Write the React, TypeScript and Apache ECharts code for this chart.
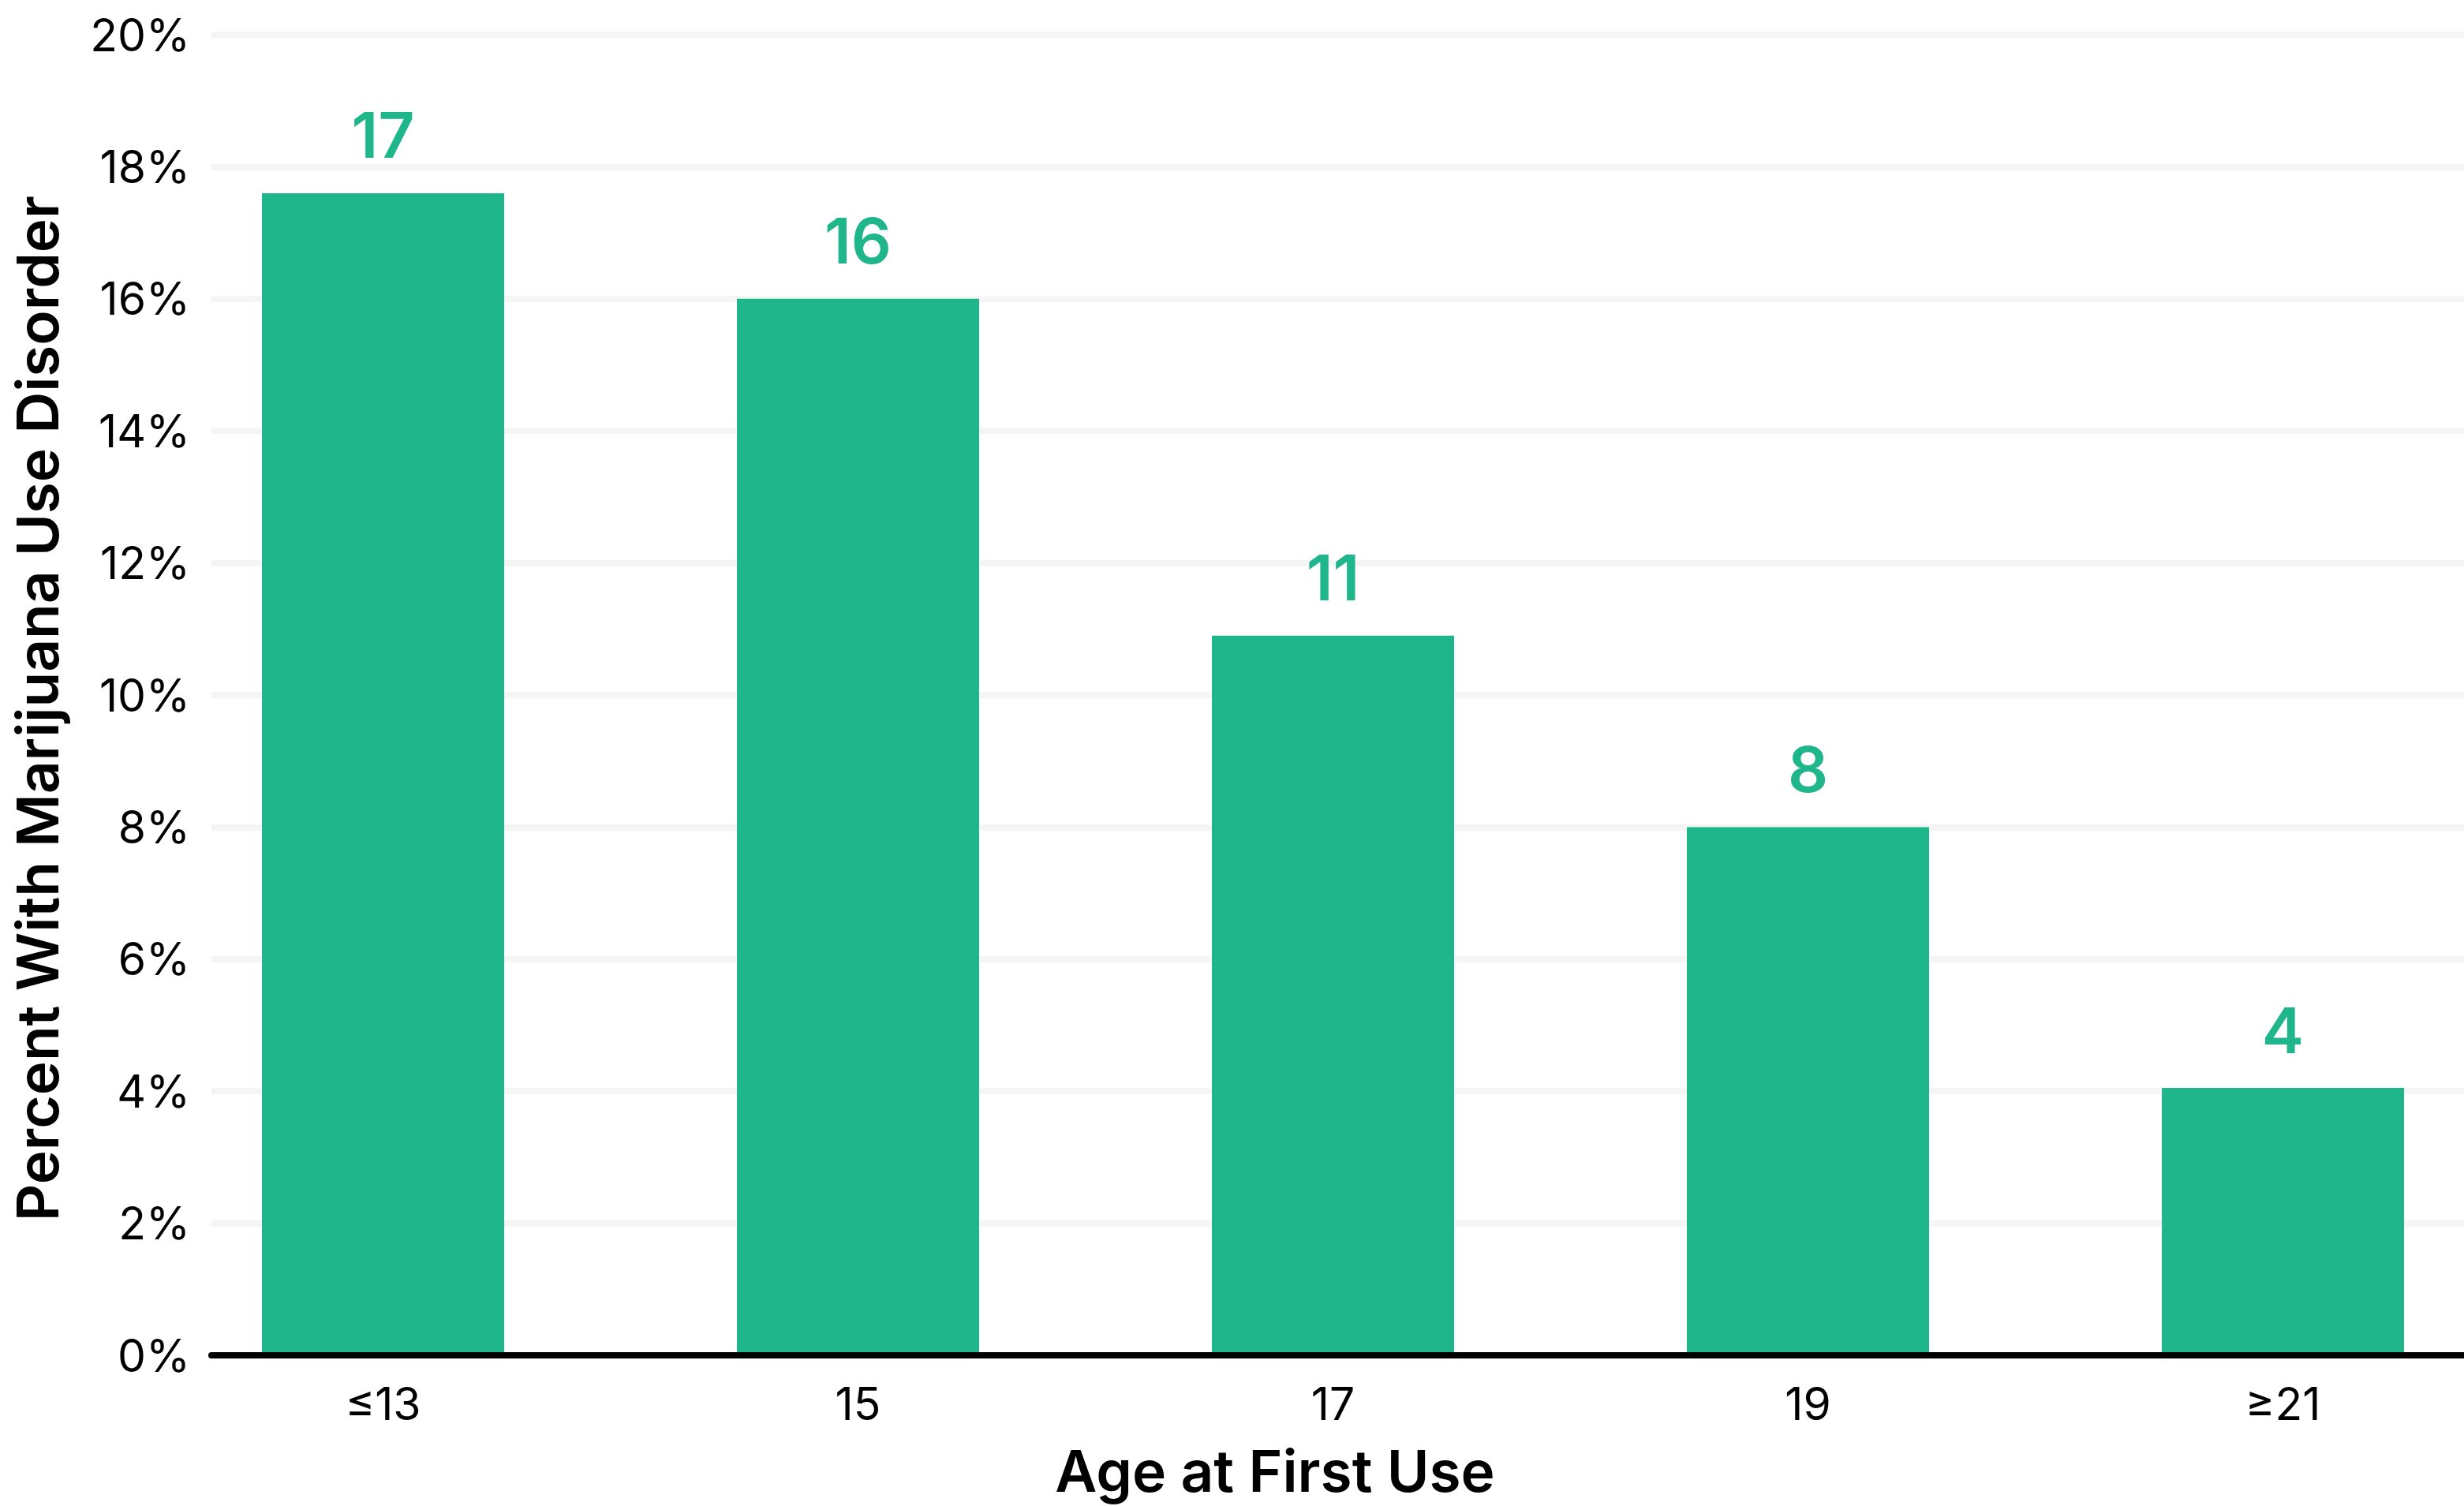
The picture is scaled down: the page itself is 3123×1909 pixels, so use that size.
import React, { useEffect, useRef } from "react";
import * as echarts from "echarts";

const categories = ["≤13", "15", "17", "19", "≥21"];
const values = [17.6, 16.0, 10.9, 8.0, 4.05];
const valueLabels = ["17", "16", "11", "8", "4"];
const yMin = 0;
const yMax = 20;
const yInterval = 2;
const xTitle = "Age at First Use";
const yTitle = "Percent With Marijuana Use Disorder";

const GREEN = "#1fb68c";
const FONT = "Inter";

export default function App() {
  const ref = useRef<HTMLDivElement>(null);
  useEffect(() => {
    if (!ref.current) return;
    const chart = echarts.init(ref.current, undefined, { renderer: "svg" });
    const top = 44;
    const bottom = 191;
    chart.setOption({
      animation: false,
      backgroundColor: "#ffffff",
      grid: [
        { left: 184.5, right: -71.5, top, bottom, containLabel: false, outerBoundsMode: "none" },
        { left: 268, right: 0, top, bottom, containLabel: false, outerBoundsMode: "none" },
      ],
      xAxis: [
        {
          gridIndex: 0,
          type: "category",
          data: categories,
          axisLine: { show: false },
          axisTick: { show: false },
          axisLabel: { show: true, margin: 33, fontFamily: FONT, fontSize: 57, fontWeight: 400, color: "#000" },
          splitLine: { show: false },
        },
        {
          gridIndex: 1,
          type: "category",
          data: [""],
          z: 3,
          axisLine: { show: true, lineStyle: { color: "#000", width: 8 } },
          axisTick: { show: false },
          axisLabel: { show: false },
          splitLine: { show: false },
        },
      ],
      yAxis: [
        {
          gridIndex: 0,
          type: "value",
          min: yMin,
          max: yMax,
          interval: yInterval,
          show: false,
          splitLine: { show: false },
        },
        {
          gridIndex: 1,
          type: "value",
          min: yMin,
          max: yMax,
          interval: yInterval,
          axisLine: { show: false },
          axisTick: { show: false },
          axisLabel: {
            margin: 27,
            formatter: "{value}%",
            fontFamily: FONT,
            fontSize: 57,
            fontWeight: 400,
            color: "#000",
          },
          splitLine: { show: true, lineStyle: { color: "#f5f5f5", width: 8 } },
        },
      ],
      series: [
        {
          type: "bar",
          xAxisIndex: 0,
          yAxisIndex: 0,
          data: values,
          barWidth: 307,
          itemStyle: { color: GREEN },
          label: {
            show: true,
            position: "top",
            distance: 34,
            formatter: (p: any) => valueLabels[p.dataIndex],
            fontFamily: FONT,
            fontSize: 80,
            fontWeight: 600,
            color: GREEN,
          },
        },
      ],
      graphic: [
        {
          type: "text",
          x: 1616,
          y: 1864,
          style: {
            text: xTitle,
            fontFamily: FONT,
            fontSize: 73,
            fontWeight: 600,
            fill: "#000",
            textAlign: "center",
            textVerticalAlign: "middle",
          },
        },
        {
          type: "text",
          x: 47,
          y: 898,
          rotation: Math.PI / 2,
          style: {
            text: yTitle,
            fontFamily: FONT,
            fontSize: 73,
            fontWeight: 600,
            fill: "#000",
            textAlign: "center",
            textVerticalAlign: "middle",
          },
        },
      ],
    });
    return () => chart.dispose();
  }, []);
  return (
    <div
      ref={ref}
      style={{ position: "absolute", left: 0, top: 0, width: 3123, height: 1909 }}
    />
  );
}
